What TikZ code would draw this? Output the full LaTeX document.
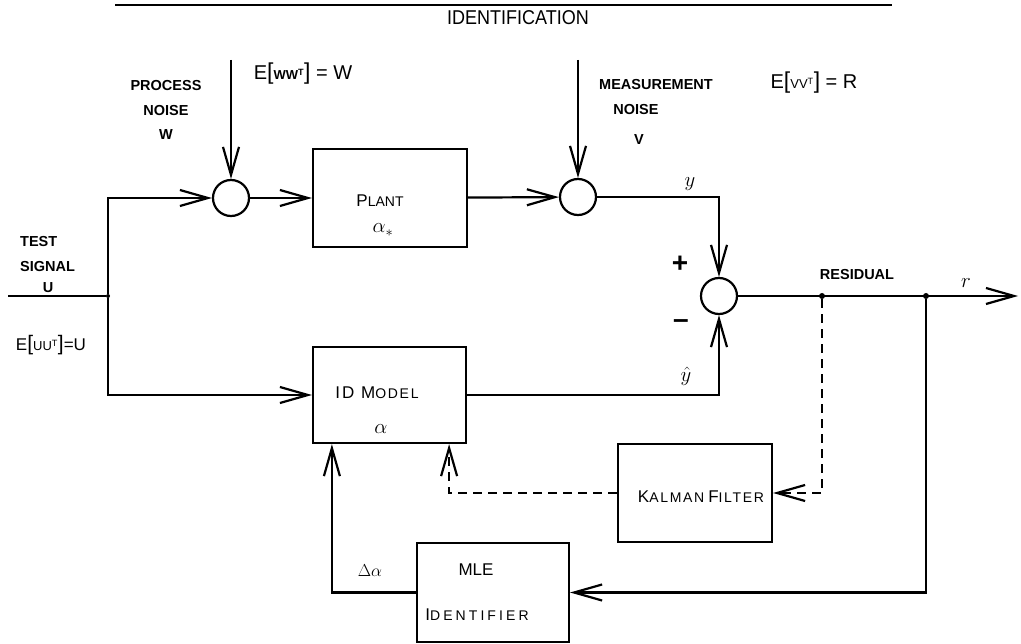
\documentclass[tikz,border=0pt]{standalone}
\usepackage{fontspec}
\setmainfont{Liberation Sans}
\newfontfamily\lsfont[LetterSpace=12]{Liberation Sans}
\newfontfamily\wsfont[LetterSpace=22]{Liberation Sans}
\usetikzlibrary{arrows.meta,calc}
\newcommand\fsc[2]{{\fontsize{17}{20}\selectfont #1}{\fontsize{14}{17}\selectfont #2}}
\newcommand\bigbrk[1]{{\fontsize{23}{24}\selectfont #1}}
\begin{document}
\begin{tikzpicture}[x=1pt,y=-1pt,
  ln/.style={line width=2.2pt},
  arr/.style={ln,-{Straight Barb[length=28pt,width=16pt,line width=2.2pt]}},
  dsh/.style={dash pattern=on 9pt off 6pt},
  sumc/.style={circle,draw,line width=2.2pt,minimum size=36pt,inner sep=0pt},
  blk/.style={draw,line width=2.2pt,inner sep=0pt},
  bl/.style={font=\fontsize{14.5}{24.5}\selectfont\bfseries,align=center,inner sep=0pt},
  tx/.style={inner sep=0pt},
  mth/.style={inner sep=0pt,font=\fontsize{20}{24}\selectfont},
  jdot/.style={circle,fill,inner sep=0pt,minimum size=6pt}]
\useasboundingbox (0,0) rectangle (1021,644);
% top rule and title
\draw[line width=1.3pt] (115,5) -- (892,5);
\node[tx,font=\fontsize{20}{24}\selectfont] (ttl) at (518,18) {\scalebox{0.9}[1]{IDENTIFICATION}};
% blocks
\node[blk,minimum width=154pt,minimum height=98pt] (plant) at (390,198) {};
\node[blk,minimum width=153pt,minimum height=96pt] (idm) at (389.5,395) {};
\node[blk,minimum width=154pt,minimum height=98pt] (kal) at (695,493) {};
\node[blk,minimum width=152pt,minimum height=99pt] (mle) at (493,592.5) {};
% summing junctions
\node[sumc] (s1) at (231,198) {};
\node[sumc] (s2) at (578,197) {};
\node[sumc] (s3) at (719,296) {};
% junction points
\coordinate (uin) at (8,296);
\node[jdot,minimum size=4pt] (j0) at (108,296) {};
\node[jdot] (j1) at (822,296) {};
\node[jdot] (j2) at (926,296) {};
\coordinate (wtop) at (231,60);
\coordinate (vtop) at (578,60);
\coordinate (rout) at (1018,296);
\coordinate (idmk) at ($(idm.south east)+(-18,0)$);
\coordinate (idmm) at ($(idm.south west)+(20,0)$);
% connectors
\draw[ln] (uin) -- (j0);
\draw[arr] (j0) |- (s1);
\draw[arr] (j0) |- (idm);
\draw[arr] (wtop) -- (s1);
\draw[arr] (s1) -- (plant);
\draw[arr] (plant) -- (s2);
\draw[arr] (vtop) -- (s2);
\draw[arr] (s2) -| (s3);
\draw[arr] (idm) -| (s3);
\draw[arr] (s3) -- (rout);
\draw[arr,dsh] (j1) |- (kal);
\draw[arr,dsh] (kal) -| (idmk);
\draw[arr] (j2) |- (mle);
\draw[arr] (mle) -| (idmm);
% labels
\node[bl] (pn) at (166,110) {PROCESS\\NOISE\\W};
\node[tx,font=\fontsize{20}{24}\selectfont] (ew) at (303,74) {E\bigbrk{[}{\fontsize{13}{14}\selectfont\bfseries WW\textsuperscript{T}}\bigbrk{]} = W};
\node[bl] (mn1) at (656,85) {MEASUREMENT};
\node[bl] (mn2) at (636,110) {NOISE};
\node[bl] (mn3) at (639,140) {V};
\node[tx,font=\fontsize{20}{24}\selectfont] (ev) at (814,83) {E\bigbrk{[}{\fontsize{13}{14}\selectfont VV\textsuperscript{T}}\bigbrk{]} = R};
\node[bl,anchor=west] (ts1) at (20,242) {TEST};
\node[bl,anchor=west] (ts2) at (20,267) {SIGNAL};
\node[bl] (ts3) at (48,288) {U};
\node[tx,font=\fontsize{17}{20}\selectfont] (eu) at (51,345) {E{\fontsize{21}{22}\selectfont[}{\fontsize{13}{14}\selectfont UU\textsuperscript{T}}{\fontsize{21}{22}\selectfont]}=U};
\node[tx] (pl1) at (380,201) {\fsc{P}{LANT}};
\node[mth] (pl2) at (383,230) {$\alpha_*$};
\node[tx] (id1) at (377,393) {\lsfont\fsc{ID M}{ODEL}};
\node[mth] (id2) at (381,429) {$\alpha$};
\node[tx] (kf) at (701,497) {\lsfont\fsc{K}{ALMAN} \fsc{F}{ILTER}};
\node[tx,font=\fontsize{17}{20}\selectfont] (ml1) at (476,570) {MLE};
\node[tx] (ml2) at (477,615) {\wsfont\fsc{I}{DENTIFIER}};
\node[tx,font=\fontsize{16}{18}\selectfont] (da) at (370,571) {$\Delta\alpha$};
\node[mth] (ly) at (690,184) {$y$};
\node[mth] (lyh) at (686,376) {$\hat{y}$};
\node[mth] (lr) at (966,283) {$r$};
\node[bl] (res) at (857,275) {RESIDUAL};
\node[tx,font=\fontsize{28}{30}\selectfont\bfseries] (pls) at (680,264) {+};
\node[tx,font=\fontsize{28}{30}\selectfont\bfseries] (mns) at (681,324) {\textendash};
\end{tikzpicture}
\end{document}
